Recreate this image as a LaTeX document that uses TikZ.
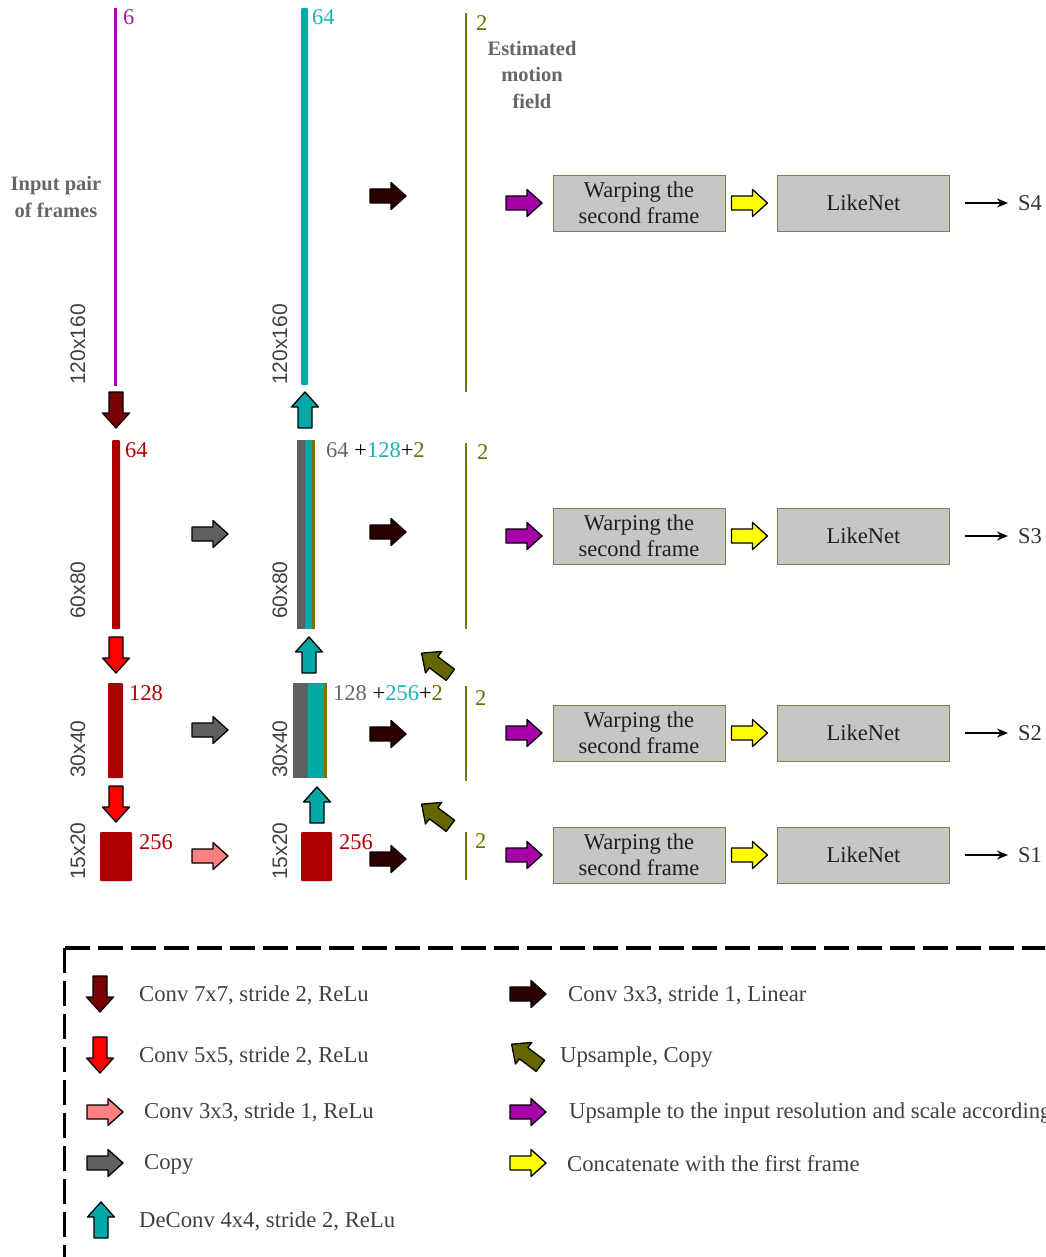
\documentclass[tikz,border=0pt]{standalone}
\usepackage{fontspec}
\setmainfont{Liberation Serif}
\setsansfont{Liberation Sans}
\usetikzlibrary{arrows.meta}

\definecolor{maroonA}{HTML}{7A0000}
\definecolor{redA}{HTML}{FF0000}
\definecolor{barRed}{HTML}{AA0000}
\definecolor{pinkA}{HTML}{FF8080}
\definecolor{greyA}{HTML}{606060}
\definecolor{tealA}{HTML}{00A8A8}
\definecolor{darkA}{HTML}{2B0000}
\definecolor{oliveA}{HTML}{666600}
\definecolor{oliveL}{HTML}{777700}
\definecolor{purpleA}{HTML}{A800A8}
\definecolor{purpleL}{HTML}{A010B0}
\definecolor{yellowA}{HTML}{FFFF00}
\definecolor{boxFill}{HTML}{C6C6C6}
\definecolor{boxDraw}{HTML}{808040}
\definecolor{txtRed}{HTML}{B00000}
\definecolor{txtTeal}{HTML}{20B0B0}
\definecolor{txtOlive}{HTML}{6B6B00}
\definecolor{txtPurple}{HTML}{A020A0}
\definecolor{txtGrey}{HTML}{666666}
\definecolor{txtDark}{HTML}{404040}

\begin{document}
\begin{tikzpicture}[x=1pt,y=-1pt,
  % block arrow, drawn pointing along +x, 36 long
  blk/.pic={\path[pic actions] (-18,-7) -- (3,-7) -- (3,-13.5) -- (18,0)
      -- (3,13.5) -- (3,7) -- (-18,7) -- cycle;},
  barrow/.style={draw=black, line width=1.3pt, line join=round, fill=#1},
  pdown/.style={rotate=-90},
  pup/.style={rotate=90},
  pdiag/.style={rotate=143},
  lab/.style={anchor=west, inner sep=0pt, font=\fontsize{22.5}{26}\selectfont},
  dimlab/.style={rotate=90, anchor=west, inner sep=0pt, text=txtDark,
      font=\sffamily\fontsize{21}{24}\selectfont},
  boldlab/.style={align=center, inner sep=0pt, text=txtGrey,
      font=\bfseries\fontsize{20.5}{26.5}\selectfont},
  procbox/.style={draw=boxDraw, line width=0.8pt, fill=boxFill, minimum width=172pt,
      minimum height=56pt, inner sep=0pt, align=center, text=black!88,
      font=\fontsize{22.5}{26}\selectfont},
  legtext/.style={anchor=base west, inner sep=0pt, text=txtDark,
      font=\fontsize{22.7}{26}\selectfont},
  outarrow/.style={-{Stealth[length=11pt,width=9pt]}, line width=2.4pt}
]
\useasboundingbox (0,0) rectangle (1045,1257);
\clip (0,0) rectangle (1045,1257);

% ---------------- encoder column ----------------
\fill[purpleL] (114,8) rectangle (117,386);
\fill[barRed, rounded corners=1pt] (112,440) rectangle (120,629);
\fill[barRed, rounded corners=1pt] (108,683) rectangle (123,778);
\fill[barRed, rounded corners=1pt] (100,832) rectangle (132,881);

\node[lab, text=txtPurple] (c6) at (123,17) {6};
\node[lab, text=txtRed] (e64) at (125,450) {64};
\node[lab, text=txtRed] (e128) at (129,693) {128};
\node[lab, text=txtRed] (e256) at (139,842) {256};

\node[dimlab] (ed1) at (78,385) {120x160};
\node[dimlab] (ed2) at (78,619) {60x80};
\node[dimlab] (ed3) at (78,778) {30x40};
\node[dimlab] (ed4) at (78,880) {15x20};

\node[boldlab] (inlab) at (56,197) {Input pair\\of frames};

\pic[barrow=maroonA, pdown] at (116,410) {blk};
\pic[barrow=redA, pdown] at (116,655) {blk};
\pic[barrow=redA, pdown] at (116,804) {blk};

\pic[barrow=greyA] at (210,534) {blk};
\pic[barrow=greyA] at (210,730) {blk};
\pic[barrow=pinkA] at (210,856) {blk};

% ---------------- decoder column ----------------
\fill[tealA, rounded corners=1pt] (301,8) rectangle (308,385);
\fill[greyA] (297,440) rectangle (305,629);
\fill[tealA] (305,440) rectangle (312,629);
\fill[oliveL] (312,440) rectangle (315,629);
\fill[greyA] (293,683) rectangle (308,778);
\fill[tealA] (308,683) rectangle (324,778);
\fill[oliveL] (324,683) rectangle (327,778);
\fill[barRed, rounded corners=1pt] (301,832) rectangle (332,881);

\node[lab, text=txtTeal] (d64) at (312,17) {64};
\node[lab] (dcat1) at (326,450)
  {\textcolor{txtGrey}{64} +\textcolor{txtTeal}{128}+\textcolor{txtOlive}{2}};
\node[lab] (dcat2) at (333,693)
  {\textcolor{txtGrey}{128} +\textcolor{txtTeal}{256}+\textcolor{txtOlive}{2}};
\node[lab, text=txtRed] (d256) at (339,842) {256};

\node[dimlab] (dd1) at (280,385) {120x160};
\node[dimlab] (dd2) at (280,619) {60x80};
\node[dimlab] (dd3) at (280,778) {30x40};
\node[dimlab] (dd4) at (280,880) {15x20};

\pic[barrow=tealA, pup] at (305,410) {blk};
\pic[barrow=tealA, pup] at (309,655) {blk};
\pic[barrow=tealA, pup] at (317,805) {blk};

\pic[barrow=darkA] at (388,196) {blk};
\pic[barrow=darkA] at (388,532) {blk};
\pic[barrow=darkA] at (388,734) {blk};
\pic[barrow=darkA] at (388,859) {blk};

\pic[barrow=oliveA, pdiag] at (436,664) {blk};
\pic[barrow=oliveA, pdiag] at (436,815) {blk};

% ---------------- motion fields ----------------
\fill[oliveL] (464.5,13) rectangle (467,392);
\fill[oliveL] (464.5,443) rectangle (467,629);
\fill[oliveL] (464.5,686) rectangle (467,781);
\fill[oliveL] (464.5,832) rectangle (467,880);

\node[lab, text=txtOlive] (m4) at (476,23) {2};
\node[lab, text=txtOlive] (m3) at (477,452) {2};
\node[lab, text=txtOlive] (m2) at (475,698) {2};
\node[lab, text=txtOlive] (m1) at (475,841) {2};

\node[boldlab] (emf) at (532,74.5) {Estimated\\motion\\field};

% ---------------- warping and scoring ----------------
\foreach \r/\yy in {4/203, 3/536, 2/733, 1/855} {
  \pic[barrow=purpleA] at (524,\yy) {blk};
  \node[procbox] (wb\r) at (639,\yy) {Warping the\\second frame};
  \pic[barrow=yellowA] at (749.5,\yy) {blk};
  \node[procbox] (ln\r) at (863.5,\yy) {LikeNet};
  \node[lab, text=black!80] (s\r) at (1018,\yy) {S\r};
  \draw[outarrow] ([xshift=15pt]ln\r.east) -- ([xshift=-10pt]s\r.west);
}

% ---------------- legend ----------------
\draw[line width=3.2pt, dash pattern=on 25pt off 8pt] (64.5,948) -- (1100,948);
\draw[line width=3.2pt, dash pattern=on 25pt off 8pt] (64.5,948) -- (64.5,1300);

\pic[barrow=maroonA, pdown] at (100,994) {blk};
\node[legtext] (k1) at (139,1001) {Conv 7x7, stride 2, ReLu};
\pic[barrow=redA, pdown] at (100,1055) {blk};
\node[legtext] (k2) at (139,1062) {Conv 5x5, stride 2, ReLu};
\pic[barrow=pinkA] at (105,1112) {blk};
\node[legtext] (k3) at (144,1118) {Conv 3x3, stride 1, ReLu};
\pic[barrow=greyA] at (105,1163) {blk};
\node[legtext] (k4) at (144,1169) {Copy};
\pic[barrow=tealA, pup] at (101,1220) {blk};
\node[legtext] (k5) at (139,1227) {DeConv 4x4, stride 2, ReLu};

\pic[barrow=darkA] at (528,994) {blk};
\node[legtext] (k6) at (568,1001) {Conv 3x3, stride 1, Linear};
\pic[barrow=oliveA, pdiag] at (526,1055) {blk};
\node[legtext] (k7) at (560,1062) {Upsample, Copy};
\pic[barrow=purpleA] at (528,1112) {blk};
\node[legtext] (k8) at (569,1118) {Upsample to the input resolution and scale according};
\pic[barrow=yellowA] at (528,1163) {blk};
\node[legtext] (k9) at (567,1171) {Concatenate with the first frame};
\end{tikzpicture}
\end{document}
